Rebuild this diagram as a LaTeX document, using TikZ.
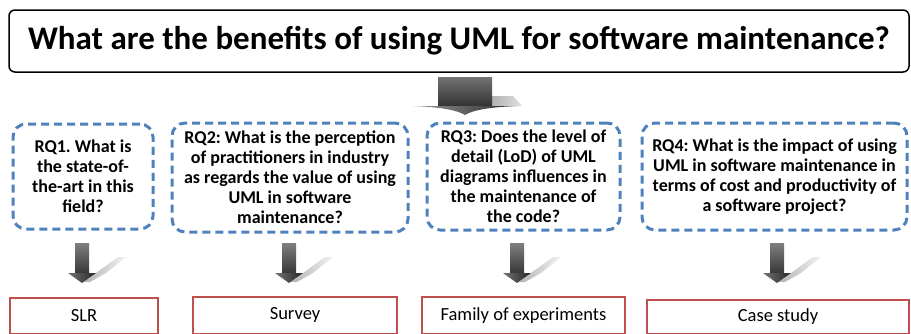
\documentclass[tikz,border=0pt]{standalone}
\usepackage{fontspec}
\setmainfont{Carlito}
\definecolor{rqblue}{HTML}{4F81BD}
\definecolor{methred}{HTML}{C0504D}
\tikzset{
  titlebox/.style={draw=black, line width=1.5pt, rounded corners=6pt, fill=white,
    inner sep=0pt, font=\fontsize{33}{38}\selectfont\bfseries},
  rqbox/.style={draw=rqblue, line width=3pt, dash pattern=on 8pt off 5pt,
    rounded corners=13pt, inner sep=0pt, align=center,
    font=\fontsize{18}{20}\selectfont\bfseries\frenchspacing},
  methbox/.style={draw=methred, line width=2pt, inner sep=0pt,
    font=\fontsize{18.5}{21}\selectfont},
  % small block arrow, origin at its vertical middle
  smallarrow/.pic={
    \shade[left color=black!30, right color=black!5]
      (2,19) -- (14,10) -- (36,-6) -- (44,-6) -- (24,10) -- (8,19) -- cycle;
    \shade[top color=black!50, bottom color=black!78] (-7,-20) rectangle (7,10);
    \shade[left color=black!55, right color=black!85]
      (-14,10) -- (14,10) -- (0,20) -- cycle;
  },
  % large block arrow, origin at its vertical middle
  bigarrow/.pic={
    \shade[left color=black!30, right color=black!12]
      (27,0) -- (48,0) -- (57,10) -- (27,10) -- cycle;
    \shade[top color=black!55, bottom color=black!80] (-27,-19) rectangle (27,10);
    \shade[left color=black!40, right color=black!85]
      (-53,10) .. controls (-25,11) and (-8,14) .. (0,19)
      .. controls (8,14) and (25,11) .. (53,10) -- cycle;
  }
}
\begin{document}
\begin{tikzpicture}[x=1pt,y=-1pt]
\useasboundingbox (0,0) rectangle (911,333);
\clip (0,0) rectangle (911,333);

% main question
\node[titlebox, minimum width=900pt, minimum height=62pt] (title) at (459,41)
  {What are the benefits of using UML for software maintenance?};

% research questions
\node[rqbox, minimum width=140pt, minimum height=105pt] (rq1) at (83,176.5)
  {RQ1. What is\\the state-of-\\the-art in this\\field?};
\node[rqbox, minimum width=236pt, minimum height=109pt] (rq2) at (290,177.5)
  {RQ2: What is the perception\\of practitioners in industry\\as regards the value of using\\UML in software\\maintenance?};
\node[rqbox, minimum width=193pt, minimum height=107pt] (rq3) at (523.5,176.5)
  {RQ3: Does the level of\\detail (LoD) of UML\\diagrams influences in\\the maintenance of\\the code?};
\node[rqbox, minimum width=265pt, minimum height=107pt] (rq4) at (774.5,176.5)
  {RQ4: What is the impact of using\\UML in software maintenance in\\terms of cost and productivity of\\a software project?};

% research methods
\node[methbox, minimum width=148pt, minimum height=36pt] (slr) at (84,316) {SLR};
\node[methbox, minimum width=204pt, minimum height=37pt] (survey) at (295,315) {Survey};
\node[methbox, minimum width=203pt, minimum height=37pt] (family) at (523.5,315.5) {Family of experiments};
\node[methbox, minimum width=262pt, minimum height=34pt] (case) at (778,317) {Case study};

% block arrows between the levels
\coordinate (big) at (465,96);
\coordinate (a1) at (82,263);
\coordinate (a2) at (289,263);
\coordinate (a3) at (517,263);
\coordinate (a4) at (777,263);
\pic at (big) {bigarrow};
\foreach \c in {a1,a2,a3,a4} \pic at (\c) {smallarrow};
\end{tikzpicture}
\end{document}
